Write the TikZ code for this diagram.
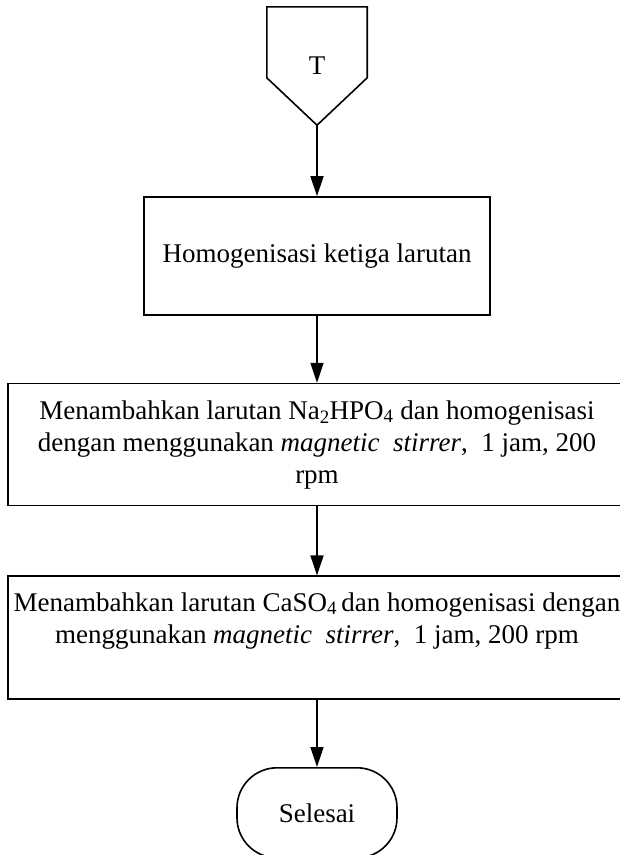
\documentclass[tikz,border=0pt]{standalone}
\usepackage{fontspec}
\setmainfont{Liberation Serif}
\usepackage{tikz}
\usetikzlibrary{
    arrows.meta,
    positioning
}
\tikzset{
    % Base style for all nodes
    plain base/.style={
        font=\fontsize{27}{32}\selectfont,
        align=center,
        text=black,
        inner sep=2pt,
    },
    % Off-page connector (pentagon drawn around it)
    connector/.style={
        plain base,
        minimum width=100pt,
        minimum height=118pt,
    },
    % Process nodes - plain rectangle
    process/.style={
        plain base,
        rectangle,
        draw=black,
        line width=1.6pt,
    },
    % Terminator - rounded box
    terminator/.style={
        plain base,
        rectangle,
        rounded corners=40pt,
        draw=black,
        line width=1.6pt,
        minimum width=160pt,
        minimum height=90pt,
    },
    % Arrow style
    arrow/.style={
        -{Triangle[length=20pt, width=13pt]},
        line width=1.6pt,
        draw=black,
    },
}

\begin{document}
\begin{tikzpicture}[node distance=68pt]
    \useasboundingbox (0,0) rectangle (620pt,-855pt);

    \node (conn) [connector] at (317pt,-66pt) {T};
    \draw [line width=1.6pt] (conn.north west) -- (conn.north east)
        -- ([yshift=-71pt]conn.north east) -- (conn.south)
        -- ([yshift=-71pt]conn.north west) -- cycle;

    \node (homog) [process, below=71pt of conn, minimum width=346pt, minimum height=118pt] {Homogenisasi ketiga larutan};
    \node (na) [process, below=67pt of homog, minimum width=618pt, minimum height=122pt] {Menambahkan larutan Na\textsubscript{2}HPO\textsubscript{4} dan homogenisasi\\ dengan menggunakan \textit{magnetic}~~\textit{stirrer},~~1 jam, 200\\ rpm};
    \node (ca) [process, below=69pt of na, minimum width=618pt, minimum height=123pt] {Menambahkan larutan CaSO\textsubscript{4}\,dan homogenisasi dengan\\ menggunakan \textit{magnetic}~~\textit{stirrer},~~1 jam, 200 rpm\\[8pt]};
    \node (end) [terminator, below=67pt of ca] {Selesai};

    \draw [arrow] (conn) -- (homog);
    \draw [arrow] (homog) -- (na);
    \draw [arrow] (na) -- (ca);
    \draw [arrow] (ca) -- (end);
\end{tikzpicture}
\end{document}
